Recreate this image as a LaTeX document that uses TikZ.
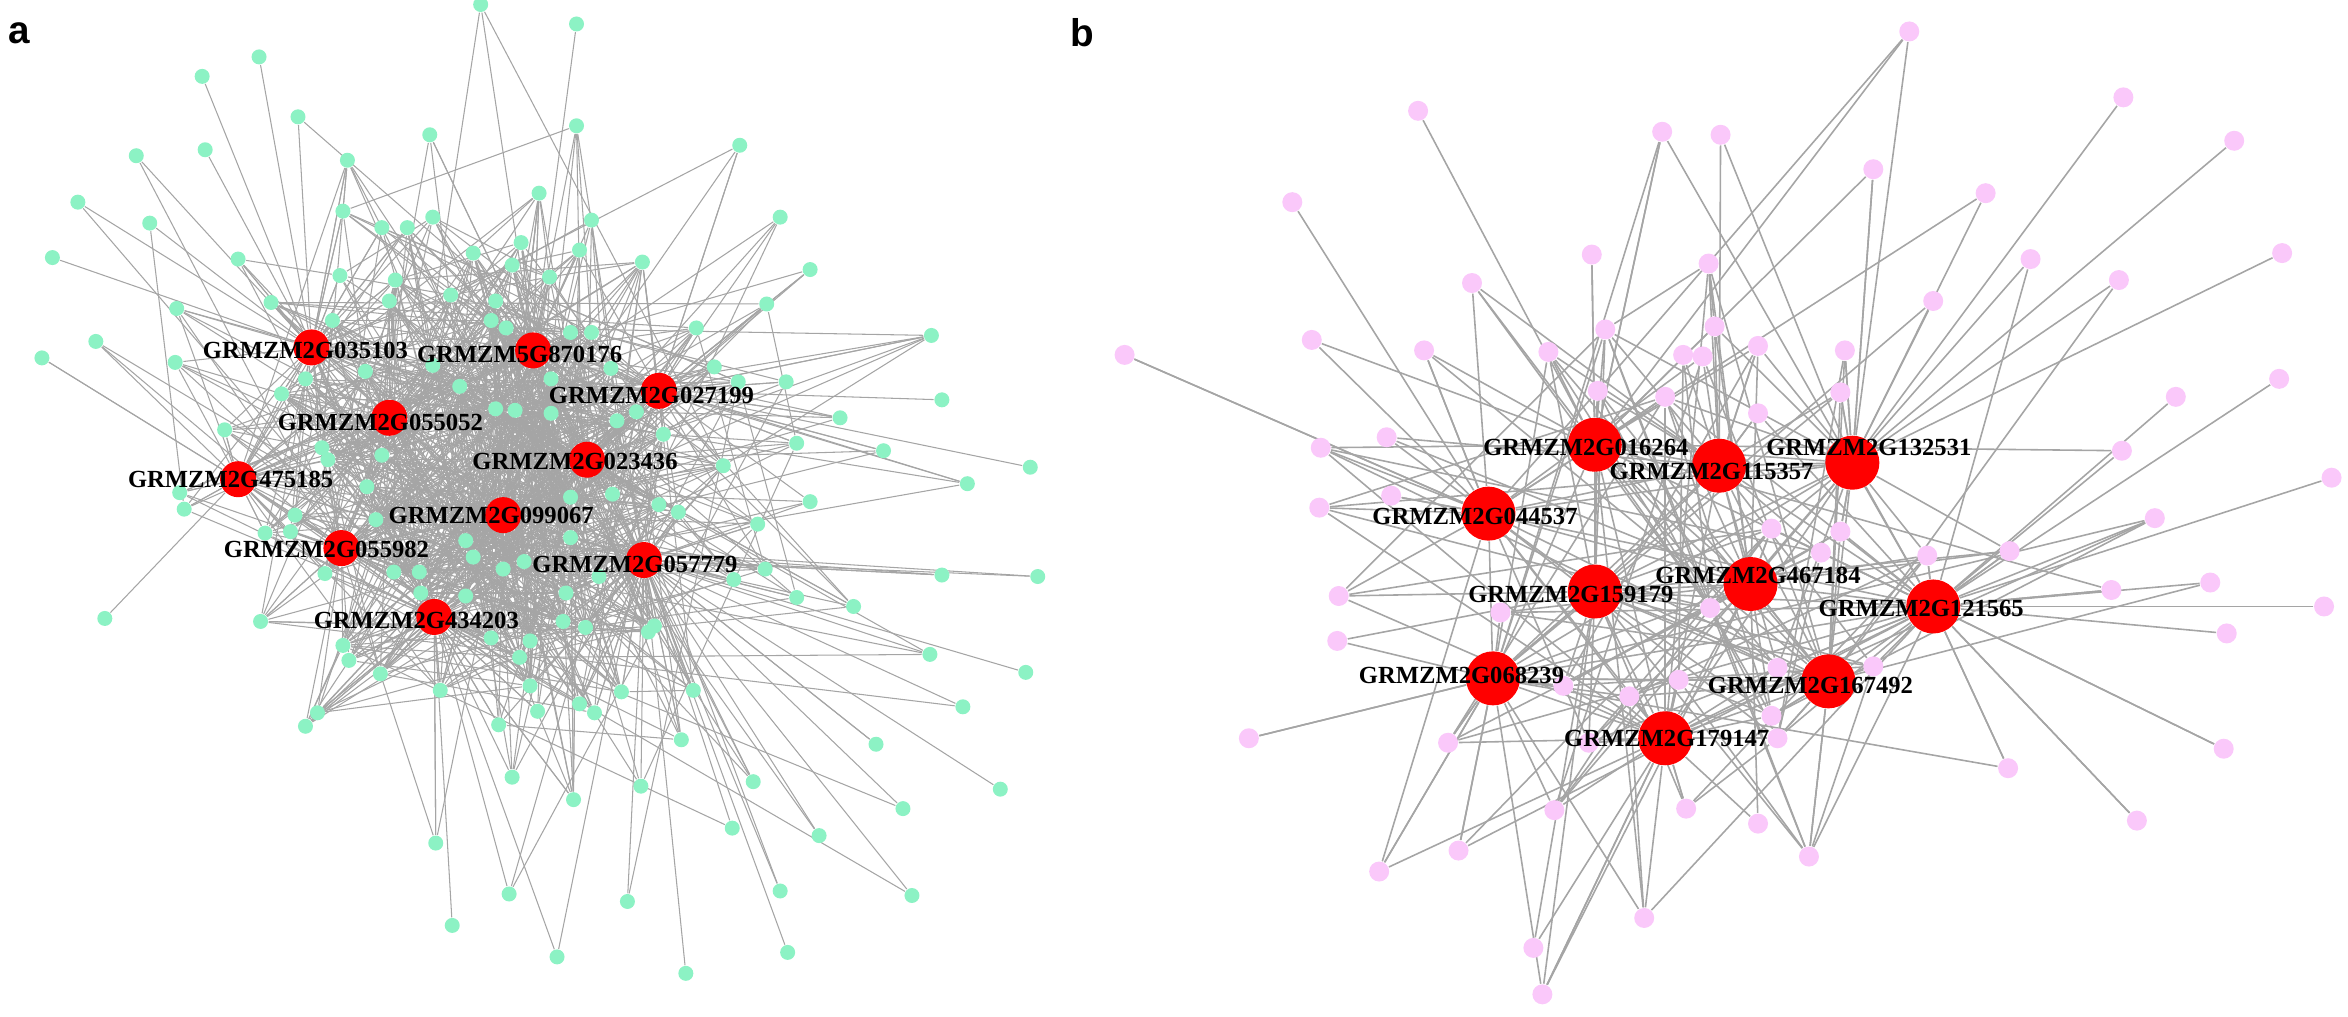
\documentclass[tikz,border=0pt]{standalone}
\usepackage{fontspec}
\setmainfont{Liberation Serif}
\setsansfont{Liberation Sans}
\usetikzlibrary{backgrounds}

\definecolor{hubred}{RGB}{255,0,0}
\definecolor{mint}{RGB}{140,242,196}
\definecolor{lilac}{RGB}{250,200,250}
\definecolor{edgegray}{RGB}{165,165,165}

\tikzset{
  hub/.style={circle, fill=hubred, inner sep=0pt, minimum size=0.36cm},
  bighub/.style={circle, fill=hubred, inner sep=0pt, minimum size=0.54cm},
  gnode/.style={circle, fill=mint, inner sep=0pt, minimum size=0.15cm},
  pnode/.style={circle, fill=lilac, inner sep=0pt, minimum size=0.2cm},
  glabel/.style={font=\bfseries\fontsize{7}{8}\selectfont, inner sep=0pt},
  linka/.style={draw=edgegray, line width=0.3pt},
  linkb/.style={draw=edgegray, line width=0.45pt},
  panel/.style={font=\sffamily\bfseries\fontsize{11}{11}\selectfont, inner sep=0pt}
}

% hubs: name/x/y/label x/label y
\def\hubsA{GRMZM2G035103/208/232/204/234, GRMZM5G870176/356/234/347/237,
  GRMZM2G027199/440/261/435/264, GRMZM2G055052/260/279/254/282,
  GRMZM2G023436/392/307/384/308, GRMZM2G475185/159/320/154/320,
  GRMZM2G099067/336/344/328/344, GRMZM2G055982/228/366/218/367,
  GRMZM2G057779/430/374/424/377, GRMZM2G434203/290/412/278/414}
\def\hubsB{GRMZM2G016264/1065/297/1059/299, GRMZM2G115357/1148/311/1143/315,
  GRMZM2G132531/1237/309/1248/299, GRMZM2G044537/994/343/985/345,
  GRMZM2G159179/1065/395/1049/397, GRMZM2G467184/1169/390/1174/384,
  GRMZM2G121565/1291/405/1283/406, GRMZM2G068239/997/453/976/451,
  GRMZM2G167492/1221/455/1209/458, GRMZM2G179147/1112/493/1113/493}

% green partners (panel a)
\def\greensA{321/3, 385/16, 173/38, 135/51, 199/78, 287/90, 385/84, 91/104,
  137/100, 232/107, 494/97, 52/135, 100/149, 229/141, 360/129, 521/145,
  35/172, 159/173, 255/152, 272/152, 289/145, 316/169, 348/162, 387/167,
  395/147, 342/177, 367/185, 429/175, 541/180, 227/184, 264/187, 301/197,
  331/201, 118/206, 181/202, 222/214, 260/201, 328/214, 338/219, 381/222,
  395/222, 465/219, 512/203, 64/228, 28/239, 117/242, 244/248, 289/244,
  307/258, 368/253, 408/246, 477/245, 493/255, 525/255, 622/224, 629/267,
  188/263, 204/253, 331/273, 344/274, 368/276, 412/281, 425/275, 443/290,
  561/279, 532/296, 590/301, 150/287, 215/299, 219/307, 255/304, 245/325,
  409/330, 381/332, 440/337, 453/342, 483/311, 541/335, 646/323, 688/312,
  120/329, 123/340, 197/344, 194/355, 177/356, 251/347, 506/350, 311/361,
  316/372, 381/359, 217/383, 263/382, 280/382, 336/380, 350/375, 400/385,
  511/380, 629/384, 693/385, 70/413, 174/415, 281/396, 311/398, 378/396,
  490/387, 532/399, 570/405, 229/431, 233/441, 328/426, 354/428, 376/415,
  391/419, 433/422, 437/418, 254/450, 294/461, 347/439, 354/458, 415/462,
  463/461, 621/437, 685/449, 204/485, 212/476, 333/484, 359/475, 387/470,
  397/476, 455/494, 643/472, 585/497, 342/519, 383/534, 428/525, 503/522,
  668/527, 603/540, 489/553, 547/558, 291/563, 340/597, 419/602, 521/595,
  609/598, 302/618, 372/639, 458/650, 526/636}

% pink partners (panel b)
\def\pinksB{1275/21, 1418/65, 947/74, 1110/88, 1149/90, 1492/94, 863/135,
  1251/113, 1326/129, 1524/169, 1063/170, 1141/176, 1356/173, 983/189,
  1415/187, 1291/201, 1145/218, 1072/220, 876/227, 951/234, 1034/235,
  1174/231, 1232/234, 751/237, 1124/237, 1137/238, 1522/253, 1453/265,
  1067/261, 1112/265, 1174/276, 1229/262, 926/292, 882/299, 1417/301,
  1557/319, 929/331, 881/339, 1439/346, 1183/353, 1229/355, 1216/369,
  1342/368, 1287/371, 1476/389, 1410/394, 894/398, 1142/406, 1552/405,
  1002/409, 1487/423, 893/428, 1187/446, 1251/445, 1121/454, 1088/465,
  1044/458, 1183/478, 1187/493, 967/496, 834/493, 1061/496, 1341/513,
  1485/500, 1038/541, 1126/540, 1174/550, 1427/548, 974/568, 1208/572,
  921/582, 1098/613, 1024/633, 1030/664}

\begin{document}
\begin{tikzpicture}[x=0.014974cm, y=-0.014974cm]
  \useasboundingbox (0,0) rectangle (1568,679);
  \pgfmathsetseed{1357}

  % panel a
  \foreach \x/\y [count=\i] in \greensA
    \node[gnode] (g\i) at (\x,\y) {};
  \foreach \n/\x/\y/\lx/\ly [count=\i] in \hubsA
    \node[hub] (a\i) at (\x,\y) {};

  % panel b
  \foreach \x/\y [count=\i] in \pinksB
    \node[pnode] (p\i) at (\x,\y) {};
  \foreach \n/\x/\y/\lx/\ly [count=\i] in \hubsB
    \node[bighub] (b\i) at (\x,\y) {};

  \begin{pgfonlayer}{background}
    % hub to hub
    \foreach \i in {1,...,9}{
      \pgfmathtruncatemacro\nx{\i+1}
      \foreach \j in {\nx,...,10}{
        \draw[linka] (a\i) -- (a\j);
        \draw[linkb] (b\i) -- (b\j);
      }
    }
    % green to hubs
    \foreach \x/\y [count=\i] in \greensA {
      \gdef\best{1}\gdef\bestd{10000}
      \foreach \n/\hx/\hy/\lx/\ly [count=\h] in \hubsA {
        \pgfmathsetmacro\d{veclen(\x-\hx,\y-\hy)}
        \pgfmathtruncatemacro\closer{\d<\bestd}
        \ifnum\closer=1 \xdef\best{\h}\xdef\bestd{\d}\fi
        \pgfmathtruncatemacro\ok{rnd<2.2*exp(-\d/80)}
        \ifnum\ok=1 \draw[linka] (g\i) -- (a\h);\fi
      }
      \draw[linka] (g\i) -- (a\best);
    }
    % green to green in the core
    \foreach \x/\y [count=\i] in \greensA {
      \foreach \u/\v [count=\j] in \greensA {
        \ifnum\j>\i
          \pgfmathtruncatemacro\ok{rnd<4.0*exp(-(veclen(\x-330,\y-310)+veclen(\u-330,\v-310))/70)}
          \ifnum\ok=1 \draw[linka] (g\i) -- (g\j);\fi
        \fi
      }
    }
    % pink to hubs
    \foreach \x/\y [count=\i] in \pinksB {
      \gdef\best{1}\gdef\bestd{10000}
      \foreach \n/\hx/\hy/\lx/\ly [count=\h] in \hubsB {
        \pgfmathsetmacro\d{veclen(\x-\hx,\y-\hy)}
        \pgfmathtruncatemacro\closer{\d<\bestd}
        \ifnum\closer=1 \xdef\best{\h}\xdef\bestd{\d}\fi
        \pgfmathtruncatemacro\ok{rnd<1.1*exp(-\d/130)}
        \ifnum\ok=1 \draw[linkb] (p\i) -- (b\h);\fi
      }
      \draw[linkb] (p\i) -- (b\best);
    }
    % pink to pink
    \foreach \x/\y [count=\i] in \pinksB {
      \foreach \u/\v [count=\j] in \pinksB {
        \ifnum\j>\i
          \pgfmathtruncatemacro\ok{rnd<1.6*exp(-(veclen(\x-1140,\y-390)+veclen(\u-1140,\v-390))/85)}
          \ifnum\ok=1 \draw[linkb] (p\i) -- (p\j);\fi
        \fi
      }
    }
  \end{pgfonlayer}

  % labels
  \foreach \n/\x/\y/\lx/\ly [count=\i] in \hubsA
    \node[glabel] (la\i) at (\lx,\ly) {\n};
  \foreach \n/\x/\y/\lx/\ly [count=\i] in \hubsB
    \node[glabel] (lb\i) at (\lx,\ly) {\n};

  \node[panel] (tagA) at (13,22) {a};
  \node[panel] (tagB) at (723,22) {b};
\end{tikzpicture}
\end{document}
